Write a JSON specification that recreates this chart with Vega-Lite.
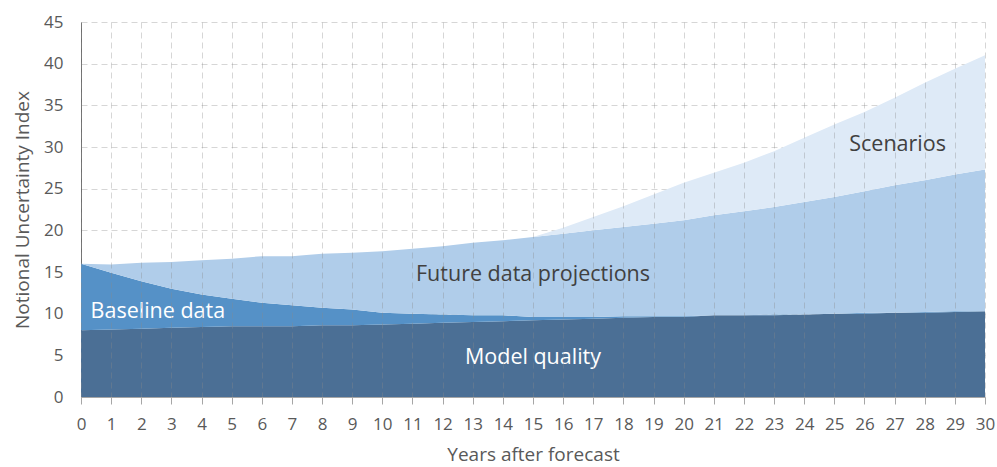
{
  "$schema": "https://vega.github.io/schema/vega-lite/v6.json",
  "width": 904,
  "height": 375,
  "autosize": "none",
  "padding": {"left": 81, "top": 22, "right": 12, "bottom": 70},
  "background": "white",
  "config": {
    "view": {"stroke": null},
    "font": "Open Sans",
    "axis": {
      "labelFont": "Open Sans",
      "titleFont": "Open Sans",
      "labelFontSize": 17,
      "labelColor": "#595959",
      "titleFontSize": 19,
      "titleFontWeight": "normal",
      "titleColor": "#595959",
      "grid": true,
      "gridColor": "#8a8a8a",
      "gridOpacity": 0.35,
      "gridDash": [6, 4],
      "gridWidth": 1
    },
    "axisY": {
      "title": "Notional Uncertainty Index",
      "values": [0, 5, 10, 15, 20, 25, 30, 35, 40, 45],
      "ticks": false,
      "labelPadding": 18,
      "labelFontSize": 17,
      "titleFontSize": 19,
      "domainColor": "#6e6e6e",
      "titlePadding": 11,
      "zindex": 1
    }
  },
  "data": {
    "values": [
      {"x": 0, "model": 8.0, "baseline": 16.0, "future": 16.0, "scenarios": 16.0},
      {"x": 1, "model": 8.1, "baseline": 14.9, "future": 15.9, "scenarios": 15.9},
      {"x": 2, "model": 8.2, "baseline": 13.9, "future": 16.1, "scenarios": 16.1},
      {"x": 3, "model": 8.3, "baseline": 13.0, "future": 16.2, "scenarios": 16.2},
      {"x": 4, "model": 8.4, "baseline": 12.3, "future": 16.4, "scenarios": 16.4},
      {"x": 5, "model": 8.5, "baseline": 11.8, "future": 16.6, "scenarios": 16.6},
      {"x": 6, "model": 8.5, "baseline": 11.3, "future": 16.9, "scenarios": 16.9},
      {"x": 7, "model": 8.5, "baseline": 11.0, "future": 16.9, "scenarios": 16.9},
      {"x": 8, "model": 8.6, "baseline": 10.7, "future": 17.2, "scenarios": 17.2},
      {"x": 9, "model": 8.6, "baseline": 10.5, "future": 17.3, "scenarios": 17.3},
      {"x": 10, "model": 8.7, "baseline": 10.1, "future": 17.5, "scenarios": 17.5},
      {"x": 11, "model": 8.8, "baseline": 10.0, "future": 17.8, "scenarios": 17.8},
      {"x": 12, "model": 8.9, "baseline": 9.9, "future": 18.1, "scenarios": 18.1},
      {"x": 13, "model": 9.0, "baseline": 9.8, "future": 18.5, "scenarios": 18.5},
      {"x": 14, "model": 9.1, "baseline": 9.8, "future": 18.8, "scenarios": 18.8},
      {"x": 15, "model": 9.2, "baseline": 9.6, "future": 19.2, "scenarios": 19.2},
      {"x": 16, "model": 9.3, "baseline": 9.6, "future": 19.6, "scenarios": 20.3},
      {"x": 17, "model": 9.4, "baseline": 9.6, "future": 20.0, "scenarios": 21.6},
      {"x": 18, "model": 9.5, "baseline": 9.7, "future": 20.4, "scenarios": 22.9},
      {"x": 19, "model": 9.6, "baseline": 9.7, "future": 20.8, "scenarios": 24.3},
      {"x": 20, "model": 9.6, "baseline": 9.7, "future": 21.2, "scenarios": 25.7},
      {"x": 21, "model": 9.8, "baseline": 9.8, "future": 21.8, "scenarios": 26.9},
      {"x": 22, "model": 9.8, "baseline": 9.8, "future": 22.3, "scenarios": 28.1},
      {"x": 23, "model": 9.8, "baseline": 9.9, "future": 22.8, "scenarios": 29.5},
      {"x": 24, "model": 9.9, "baseline": 9.9, "future": 23.4, "scenarios": 31.1},
      {"x": 25, "model": 10.0, "baseline": 10.0, "future": 24.0, "scenarios": 32.7},
      {"x": 26, "model": 10.0, "baseline": 10.1, "future": 24.7, "scenarios": 34.2},
      {"x": 27, "model": 10.1, "baseline": 10.1, "future": 25.4, "scenarios": 35.9},
      {"x": 28, "model": 10.1, "baseline": 10.2, "future": 26.0, "scenarios": 37.7},
      {"x": 29, "model": 10.2, "baseline": 10.3, "future": 26.7, "scenarios": 39.4},
      {"x": 30, "model": 10.3, "baseline": 10.3, "future": 27.3, "scenarios": 41.0}
    ]
  },
  "encoding": {
    "x": {
      "field": "x",
      "type": "quantitative",
      "scale": {"domain": [0, 30], "nice": false, "zero": false},
      "axis": {
        "title": "Years after forecast",
        "values": [0,1,2,3,4,5,6,7,8,9,10,11,12,13,14,15,16,17,18,19,20,21,22,23,24,25,26,27,28,29,30],
        "labelPadding": 12,
        "labelFontSize": 17,
        "titleFontSize": 19,
        "ticks": true,
        "tickSize": 7,
        "tickColor": "#a6a6a6",
        "domainColor": "#a6a6a6",
        "labelFlush": false,
        "titlePadding": 13,
        "zindex": 1
      }
    }
  },
  "layer": [
    {
      "mark": {"type": "area", "color": "#4b6f95", "interpolate": "linear"},
      "encoding": {
        "y": {
          "field": "model",
          "type": "quantitative",
          "scale": {"domain": [0, 45], "nice": false},
          "title": "Notional Uncertainty Index"
        }
      }
    },
    {
      "mark": {"type": "area", "color": "#5591c7"},
      "encoding": {
        "y": {"field": "baseline", "type": "quantitative", "title": "Notional Uncertainty Index"},
        "y2": {"field": "model"}
      }
    },
    {
      "mark": {"type": "area", "color": "#b0cdea"},
      "encoding": {
        "y": {"field": "future", "type": "quantitative", "title": "Notional Uncertainty Index"},
        "y2": {"field": "baseline"}
      }
    },
    {
      "mark": {"type": "area", "color": "#deeaf7"},
      "encoding": {
        "y": {"field": "scenarios", "type": "quantitative", "title": "Notional Uncertainty Index"},
        "y2": {"field": "future"}
      }
    },
    {
      "data": {"values": [
        {"x": 2.55, "y": 10.2, "label": "Baseline data"},
        {"x": 15.0, "y": 4.7, "label": "Model quality"}
      ]},
      "mark": {"type": "text", "color": "white", "fontSize": 21.5, "align": "center", "baseline": "middle"},
      "encoding": {
        "y": {"field": "y", "type": "quantitative", "title": "Notional Uncertainty Index"},
        "text": {"field": "label"}
      }
    },
    {
      "data": {"values": [
        {"x": 15.0, "y": 14.7, "label": "Future data projections"},
        {"x": 27.1, "y": 30.3, "label": "Scenarios"}
      ]},
      "mark": {"type": "text", "color": "#404040", "fontSize": 21.5, "align": "center", "baseline": "middle"},
      "encoding": {
        "y": {"field": "y", "type": "quantitative", "title": "Notional Uncertainty Index"},
        "text": {"field": "label"}
      }
    }
  ]
}
